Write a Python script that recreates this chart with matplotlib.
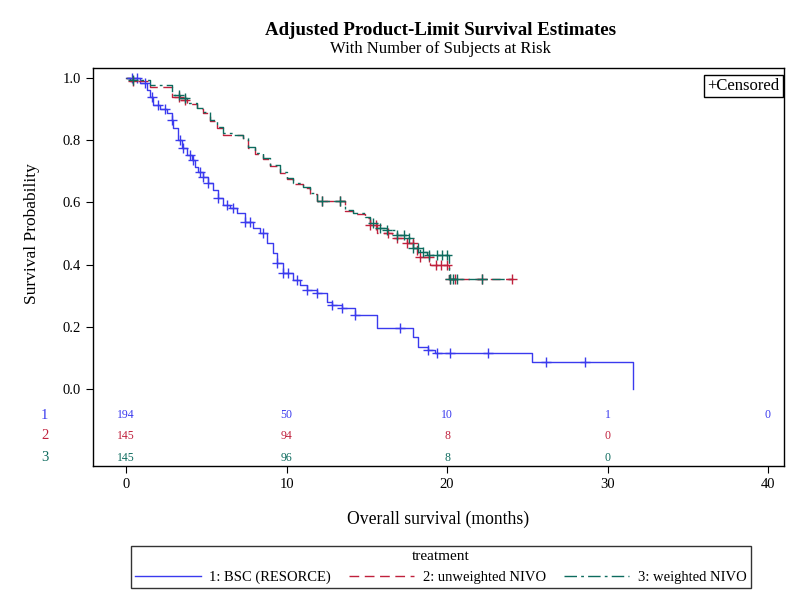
import numpy as np
import matplotlib.pyplot as plt
from matplotlib.lines import Line2D

plt.rcParams['font.family'] = ['Liberation Serif', 'DejaVu Serif']

# step points (time in months, survival after the step)
bsc_t = [0, 0.87, 1.31, 1.5, 1.68, 2.12, 2.55, 2.87, 2.93, 3.24, 3.49, 3.8, 4.11, 4.3, 4.49,
         4.8, 5.11, 5.42, 5.73, 6.04, 6.48, 6.92, 7.41, 7.91, 8.35, 8.79, 9.16, 9.41, 9.78,
         10.4, 10.84, 11.28, 11.9, 12.52, 12.83, 13.46, 14.27, 15.64, 17.88, 18.2, 18.8,
         19.25, 25.3, 31.6]
bsc_s = [1.0, 0.984, 0.961, 0.939, 0.913, 0.9, 0.887, 0.865, 0.839, 0.8, 0.775, 0.752, 0.736,
         0.714, 0.698, 0.682, 0.662, 0.64, 0.614, 0.592, 0.582, 0.566, 0.537, 0.518, 0.502,
         0.469, 0.437, 0.405, 0.373, 0.35, 0.334, 0.318, 0.309, 0.28, 0.27, 0.26, 0.238, 0.196,
         0.167, 0.135, 0.125, 0.116, 0.087, 0.0]
bsc_cens = [0.37, 0.69, 1.18, 1.62, 2.0, 2.43, 2.87, 3.36, 3.55, 3.99, 4.17, 4.61, 4.8, 5.11,
            5.73, 6.29, 6.67, 7.41, 7.73, 8.54, 9.41, 9.78, 10.1, 10.65, 11.28, 11.9, 12.83,
            13.46, 14.27, 17.07, 18.82, 19.4, 20.19, 22.55, 26.17, 28.6]

unw_t = [0, 0.25, 1.5, 2.87, 3.36, 3.8, 4.42, 4.8, 5.23, 5.67, 6.04, 7.29, 7.6, 8.04, 8.54,
         8.97, 9.6, 10.03, 10.4, 11.03, 11.46, 11.9, 13.64, 14.14, 14.9, 15.2, 15.64, 16.6,
         17.5, 18.13, 18.94, 20.12, 24.1]
unw_s = [1.0, 0.99, 0.972, 0.94, 0.928, 0.915, 0.9, 0.886, 0.86, 0.838, 0.818, 0.802, 0.774,
         0.755, 0.738, 0.716, 0.694, 0.674, 0.658, 0.646, 0.626, 0.604, 0.572, 0.562, 0.548,
         0.527, 0.502, 0.486, 0.47, 0.424, 0.399, 0.354, 0.354]
unw_cens = [0.44, 3.3, 3.7, 12.2, 13.3, 15.2, 15.6, 16.3, 16.9, 17.5, 17.9, 18.3, 18.9, 19.3,
            19.6, 20.0, 20.2, 20.5, 22.2, 24.05]

wtd_t = [0, 0.25, 1.5, 2.87, 3.36, 3.8, 4.42, 4.8, 5.23, 5.67, 6.04, 6.67, 7.29, 7.6, 8.04,
         8.54, 8.97, 9.6, 10.03, 10.4, 11.03, 11.46, 11.9, 13.64, 14.14, 14.9, 15.2, 15.64,
         16.26, 16.88, 17.5, 17.88, 18.32, 18.75, 20.12, 24.1]
wtd_s = [1.0, 0.994, 0.977, 0.945, 0.936, 0.92, 0.904, 0.891, 0.865, 0.842, 0.823, 0.817,
         0.807, 0.778, 0.759, 0.743, 0.72, 0.698, 0.678, 0.662, 0.65, 0.63, 0.605, 0.576, 0.566,
         0.553, 0.534, 0.518, 0.511, 0.495, 0.486, 0.453, 0.44, 0.431, 0.354, 0.354]
wtd_cens = [0.44, 3.3, 3.7, 12.2, 13.3, 15.4, 15.8, 16.26, 16.9, 17.3, 17.6, 17.9, 18.2, 18.5,
            18.9, 19.4, 19.7, 20.0, 20.2, 20.4, 20.6, 22.2]

risk_times = [0, 10, 20, 30, 40]
risk_bsc = [194, 50, 10, 1, 0]
risk_unw = [145, 94, 8, 0]
risk_wtd = [145, 96, 8, 0]

blue = '#3a3aee'
red = '#c0203c'
teal = '#0d6b5e'


def surv_at(tt, ss, x):
    i = np.searchsorted(tt, x, side='right') - 1
    return np.asarray(ss)[i]


fig = plt.figure(figsize=(7.93, 5.98), dpi=100)
ax = fig.add_axes([0.1173, 0.2207, 0.8714, 0.6656])

ax.plot(bsc_t, bsc_s, drawstyle='steps-post', color=blue, lw=1)
ax.plot(unw_t, unw_s, drawstyle='steps-post', color=red, lw=1, dashes=(7, 4))
ax.plot(wtd_t, wtd_s, drawstyle='steps-post', color=teal, lw=1, dashes=(9, 3, 2, 3))

ax.plot(bsc_cens, surv_at(bsc_t, bsc_s, bsc_cens), '+', color=blue, ms=7, mew=1)
ax.plot(unw_cens, surv_at(unw_t, unw_s, unw_cens), '+', color=red, ms=7, mew=1)
ax.plot(wtd_cens, surv_at(wtd_t, wtd_s, wtd_cens), '+', color=teal, ms=7, mew=1)

# at-risk table inside the plot area
rows = [(risk_bsc, blue, -0.084, '1'), (risk_unw, red, -0.151, '2'), (risk_wtd, teal, -0.222, '3')]
for vals, col, yy, lab in rows:
    for t, v in zip(risk_times, vals):
        ax.text(t, yy, str(v), color=col, fontsize=8.5, ha='center', va='center')
    ax.text(-0.07, yy, lab, color=col, fontsize=10.5, ha='center', va='center',
            transform=ax.get_yaxis_transform())

ax.set_xlim(-2.06, 41.0)
ax.set_ylim(-0.248, 1.032)
ax.set_xticks([0, 10, 20, 30, 40])
ax.set_yticks([0.0, 0.2, 0.4, 0.6, 0.8, 1.0])
ax.set_yticklabels(['0.0', '0.2', '0.4', '0.6', '0.8', '1.0'])
ax.tick_params(direction='out', length=5, labelsize=10.5, top=False, right=False)
for sp in ax.spines.values():
    sp.set_linewidth(1)
ax.set_xlabel('Overall survival (months)', fontsize=12.7, labelpad=14)
ax.set_ylabel('Survival Probability', fontsize=12.5)
ax.yaxis.set_label_coords(-0.077, 0.585)

ax.text(0.993, 0.975, '+Censored', transform=ax.transAxes, ha='right', va='top', fontsize=12,
        bbox=dict(boxstyle='square,pad=0.2', fc='white', ec='black', lw=1))

fig.text(0.556, 0.949, 'Adjusted Product-Limit Survival Estimates', ha='center', va='center',
         fontsize=13.6, fontweight='bold')
fig.text(0.556, 0.918, 'With Number of Subjects at Risk', ha='center', va='center', fontsize=12)

handles = [Line2D([], [], color=blue, lw=1),
           Line2D([], [], color=red, lw=1, dashes=(7, 4)),
           Line2D([], [], color=teal, lw=1, dashes=(9, 3, 2, 3))]
labels = ['1: BSC (RESORCE)', '2: unweighted NIVO', '3: weighted NIVO']
leg = fig.legend(handles, labels, title='treatment', loc='center', ncol=3,
                 bbox_to_anchor=(0.556, 0.052), fontsize=10.5, title_fontsize=11,
                 handlelength=4.5, columnspacing=1.2, handletextpad=0.6,
                 fancybox=False, edgecolor='black', borderpad=0.3)
leg.get_frame().set_linewidth(1)

fig.savefig('out.png', dpi=100)
